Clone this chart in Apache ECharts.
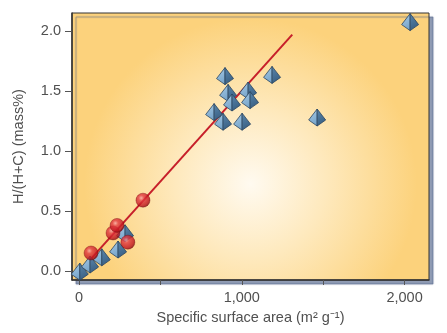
<!DOCTYPE html>
<html>
<head>
<meta charset="utf-8">
<script src="https://cdn.jsdelivr.net/npm/echarts@6/dist/echarts.min.js"></script>
<style>
  html, body { margin: 0; padding: 0; background: #ffffff; }
  #chart { width: 447px; height: 333px; }
</style>
</head>
<body>
<div id="chart"></div>
<script>
// Activated carbons (pyramids) and other samples (spheres):
// hydrogen content versus specific surface area
const pyramidX = [5, 68, 140, 240, 283, 830, 885, 897, 916, 940, 1002, 1039, 1051, 1186, 1463, 2034];
const pyramidY = [-0.01, 0.05, 0.11, 0.175, 0.31, 1.32, 1.24, 1.62, 1.48, 1.40, 1.24, 1.50, 1.42, 1.63, 1.275, 2.07];

const sphereX = [74, 209, 234, 300, 393];
const sphereY = [0.15, 0.317, 0.38, 0.24, 0.59];

// Linear trend line end points
const fitX = [0, 1310];
const fitY = [-0.01, 1.97];

const xTicks = [0, 500, 1000, 1500, 2000];
const xTickLabels = [0, 1000, 2000];
const yTicks = [0, 0.5, 1.0, 1.5, 2.0];

const zip = (a, b) => a.map((v, i) => [v, b[i]]);

const chart = echarts.init(document.getElementById('chart'), null, { renderer: 'canvas' });

const labelFont = { color: '#505050', fontSize: 14.5, fontFamily: 'Liberation Sans, Arial, sans-serif' };

function renderPyramid(params, api) {
  const p = api.coord([api.value(0), api.value(1)]);
  const cx = p[0], cy = p[1];
  const apex = [cx, cy - 9];
  const left = [cx - 8.5, cy + 2];
  const right = [cx + 8.5, cy + 2];
  const bottom = [cx, cy + 8];
  const edge = '#2b4560';
  return {
    type: 'group',
    children: [
      {
        type: 'polygon',
        shape: { points: [apex, left, bottom] },
        style: {
          fill: new echarts.graphic.LinearGradient(0, 0, 1, 1, [
            { offset: 0, color: '#a9cbe6' },
            { offset: 1, color: '#6f9fc6' }
          ]),
          stroke: edge, lineWidth: 0.8
        }
      },
      {
        type: 'polygon',
        shape: { points: [apex, bottom, right] },
        style: {
          fill: new echarts.graphic.LinearGradient(0, 0, 1, 1, [
            { offset: 0, color: '#5a87ad' },
            { offset: 1, color: '#34597c' }
          ]),
          stroke: edge, lineWidth: 0.8
        }
      }
    ]
  };
}

chart.setOption({
  animation: false,
  backgroundColor: '#ffffff',
  grid: {
    left: 72, top: 13, right: 18, bottom: 53,
    show: true,
    borderColor: '#333333',
    borderWidth: 1,
    backgroundColor: {
      type: 'radial', x: 0.5, y: 0.64, r: 0.62,
      colorStops: [
        { offset: 0, color: '#fffaf0' },
        { offset: 0.45, color: '#fee9bd' },
        { offset: 1, color: '#fcd27c' }
      ]
    },
    shadowColor: 'rgba(70, 90, 130, 0.6)',
    shadowBlur: 1,
    shadowOffsetX: 4,
    shadowOffsetY: 4
  },
  xAxis: {
    type: 'value',
    min: -43, max: 2150,
    name: 'Specific surface area (m² g⁻¹)',
    nameLocation: 'middle',
    nameGap: 30,
    nameTextStyle: labelFont,
    axisLine: { show: true, onZero: false, lineStyle: { color: '#333333', width: 1.5 } },
    axisTick: { show: true, inside: false, length: 5, customValues: xTicks, lineStyle: { color: '#555555' } },
    axisLabel: {
      show: true, margin: 10, customValues: xTickLabels, ...labelFont,
      formatter: v => Number(v).toLocaleString('en-US')
    },
    splitLine: { show: false }
  },
  yAxis: {
    type: 'value',
    min: -0.075, max: 2.15,
    name: 'H/(H+C) (mass%)',
    nameLocation: 'middle',
    nameGap: 46,
    nameTextStyle: labelFont,
    axisLine: { show: true, onZero: false, lineStyle: { color: '#333333', width: 1.5 } },
    axisTick: { show: true, inside: false, length: 7, customValues: yTicks, lineStyle: { color: '#555555' } },
    axisLabel: {
      show: true, margin: 11, customValues: yTicks, ...labelFont,
      formatter: v => Number(v).toFixed(1)
    },
    splitLine: { show: false }
  },
  series: [
    {
      type: 'line',
      data: zip(fitX, fitY),
      symbol: 'none',
      lineStyle: { color: '#c71f2a', width: 2 },
      z: 2,
      silent: true
    },
    {
      type: 'custom',
      data: zip(pyramidX, pyramidY),
      renderItem: renderPyramid,
      clip: false,
      z: 3
    },
    {
      type: 'scatter',
      data: zip(sphereX, sphereY),
      symbol: 'circle',
      symbolSize: 14,
      itemStyle: {
        color: {
          type: 'radial', x: 0.38, y: 0.35, r: 0.65,
          colorStops: [
            { offset: 0, color: '#f7a3a3' },
            { offset: 0.3, color: '#e23a40' },
            { offset: 0.8, color: '#c0141e' },
            { offset: 1, color: '#8c0a12' }
          ]
        },
        borderColor: '#7a0a10',
        borderWidth: 0.5
      },
      z: 4
    }
  ]
});
</script>
</body>
</html>
